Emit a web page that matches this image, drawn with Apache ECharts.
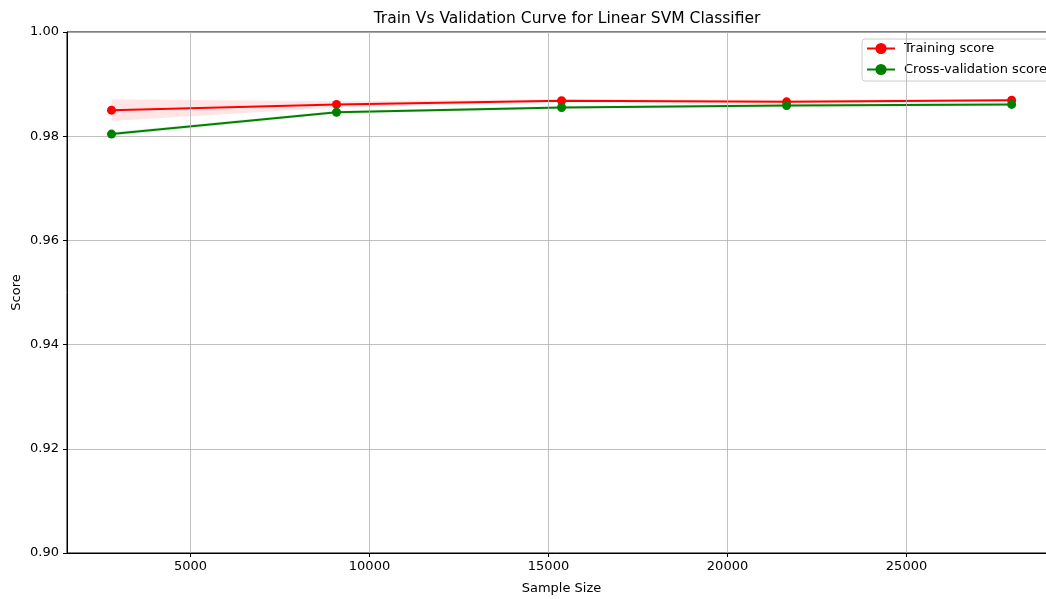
<!DOCTYPE html>
<html>
<head>
<meta charset="utf-8">
<script src="https://cdn.jsdelivr.net/npm/echarts@6/dist/echarts.min.js"></script>
<style>html,body{margin:0;padding:0;background:#fff;}#c{width:1046px;height:599px;}</style>
</head>
<body>
<div id="c"></div>
<script>
const sampleSizes = [2794, 9079, 15365, 21650, 27936];
const trainScore = [0.9850, 0.9861, 0.9868, 0.9866, 0.9869];
const trainUpper = [0.9871, 0.9867, 0.9871, 0.9869, 0.9872];
const trainLower = [0.9829, 0.9855, 0.9865, 0.9863, 0.9866];
const cvScore = [0.9804, 0.9846, 0.9855, 0.9859, 0.9861];
const cvUpper = [0.9808, 0.9849, 0.9858, 0.9862, 0.9864];
const cvLower = [0.9800, 0.9843, 0.9852, 0.9856, 0.9858];
const xTicks = [5000, 10000, 15000, 20000, 25000];
const yTicks = [0.90, 0.92, 0.94, 0.96, 0.98, 1.00];

const FONT = 'DejaVu Sans';
const pairs = (ys) => sampleSizes.map((x, i) => [x, ys[i]]);
const bandData = (lo, up) => sampleSizes.map((x, i) => [x, lo[i], up[i]]);

function bandRenderer(lo, up, fill) {
  return function (params, api) {
    if (params.dataIndex !== 0) return null;
    const top = sampleSizes.map((x, i) => api.coord([x, up[i]]));
    const bot = sampleSizes.map((x, i) => api.coord([x, lo[i]])).reverse();
    return {
      type: 'polygon',
      shape: {points: top.concat(bot)},
      style: {fill: fill},
      silent: true
    };
  };
}

const chart = echarts.init(document.getElementById('c'), null, {renderer: 'canvas'});
chart.setOption({
  animation: false,
  textStyle: {fontFamily: FONT},
  title: {
    text: 'Train Vs Validation Curve for Linear SVM Classifier',
    left: 562, top: 6, textAlign: 'center',
    textStyle: {fontFamily: FONT, fontSize: 15.5, fontWeight: 'normal', color: '#000'}
  },
  legend: {
    data: ['Training score', 'Cross-validation score'],
    orient: 'vertical', left: 862, top: 39,
    padding: [3, 6, 5, 4], itemGap: 8, itemWidth: 28, itemHeight: 14,
    backgroundColor: 'rgba(255,255,255,0.8)', borderColor: '#cccccc', borderWidth: 1, borderRadius: 3,
    textStyle: {fontFamily: FONT, fontSize: 13, color: '#000', padding: [0, 0, 0, 4]}
  },
  grid: {left: 67, width: 989, top: 32, height: 521, containLabel: false, outerBoundsMode: 'none',
    show: true, borderColor: '#000', borderWidth: 1, backgroundColor: 'transparent'},
  xAxis: {
    type: 'value', min: 1551, max: 29175,
    name: 'Sample Size', nameLocation: 'middle', nameGap: 29,
    nameTextStyle: {fontFamily: FONT, fontSize: 13, color: '#000'},
    axisLine: {show: true, lineStyle: {color: '#000', width: 1}},
    axisTick: {show: true, length: 4, customValues: xTicks, lineStyle: {color: '#000'}},
    axisLabel: {customValues: xTicks, fontFamily: FONT, fontSize: 13, color: '#000', margin: 7,
      formatter: (v) => String(v)},
    splitLine: {show: false}
  },
  yAxis: {
    type: 'value', min: 0.9, max: 1.0, interval: 0.02,
    name: 'Score', nameLocation: 'middle', nameGap: 44, nameRotate: 90, nameMoveOverlap: false,
    nameTextStyle: {fontFamily: FONT, fontSize: 13, color: '#000'},
    axisLine: {show: true, lineStyle: {color: '#000', width: 1}},
    axisTick: {show: true, length: 4, lineStyle: {color: '#000'}},
    axisLabel: {fontFamily: FONT, fontSize: 13, color: '#000', margin: 8,
      formatter: (v) => v.toFixed(2)},
    splitLine: {show: true, lineStyle: {color: '#b0b0b0', width: 0.8}}
  },
  series: [
    {
      name: 'grid', type: 'line', data: [], symbol: 'none', silent: true, z: 0,
      markLine: {
        silent: true, symbol: 'none', label: {show: false},
        lineStyle: {color: '#b0b0b0', width: 0.8, type: 'solid'},
        data: xTicks.map(v => ({xAxis: v}))
      }
    },
    {
      name: 'trainBand', type: 'custom', data: bandData(trainLower, trainUpper),
      renderItem: bandRenderer(trainLower, trainUpper, 'rgba(255,0,0,0.1)'),
      encode: {x: 0, y: [1, 2]}, silent: true, z: 1
    },
    {
      name: 'cvBand', type: 'custom', data: bandData(cvLower, cvUpper),
      renderItem: bandRenderer(cvLower, cvUpper, 'rgba(0,128,0,0.1)'),
      encode: {x: 0, y: [1, 2]}, silent: true, z: 1
    },
    {
      name: 'Training score', type: 'line', data: pairs(trainScore),
      symbol: 'circle', symbolSize: 9, color: '#ff0000',
      lineStyle: {color: '#ff0000', width: 2}, itemStyle: {color: '#ff0000'}, z: 3
    },
    {
      name: 'Cross-validation score', type: 'line', data: pairs(cvScore),
      symbol: 'circle', symbolSize: 9, color: '#008000',
      lineStyle: {color: '#008000', width: 2}, itemStyle: {color: '#008000'}, z: 3
    }
  ]
});
</script>
</body>
</html>
